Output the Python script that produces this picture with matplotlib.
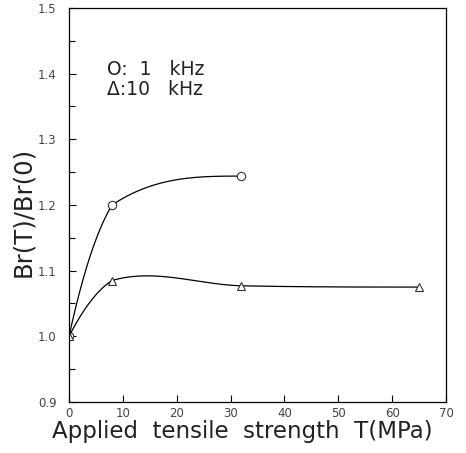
import numpy as np
import matplotlib
matplotlib.use("Agg")
import matplotlib.pyplot as plt

# data
x_1k = [0, 8, 32]
y_1k = [1.00, 1.20, 1.244]
x_10k = [0, 8, 32, 65]
y_10k = [1.00, 1.085, 1.077, 1.075]
xticks = [0, 10, 20, 30, 40, 50, 60, 70]
yticks = [0.9, 1.0, 1.1, 1.2, 1.3, 1.4, 1.5]


def smooth_curve(x, y, n=300):
    """Hand-drawn style cubic Hermite curve through the points."""
    x = np.asarray(x, float); y = np.asarray(y, float)
    k = len(x)
    sec = np.diff(y) / np.diff(x)
    dL = np.zeros(k); dR = np.zeros(k)
    for i in range(1, k - 1):
        dL[i] = 0.5 * (sec[i - 1] + sec[i])
        cr = (y[i + 1] - y[i - 1]) / (x[i + 1] - x[i - 1])
        if np.sign(sec[i - 1]) == np.sign(sec[i]) and abs(cr) > 3 * abs(sec[i]):
            cr = np.sign(cr) * 3 * abs(sec[i])
        dR[i] = cr
    dR[0] = 1.5 * sec[0]
    dL[-1] = 0.0
    xs, ys = [], []
    for i in range(k - 1):
        h = x[i + 1] - x[i]
        t = np.linspace(0, 1, n // (k - 1))
        h00 = 2 * t**3 - 3 * t**2 + 1
        h10 = t**3 - 2 * t**2 + t
        h01 = -2 * t**3 + 3 * t**2
        h11 = t**3 - t**2
        xs.append(x[i] + t * h)
        ys.append(h00 * y[i] + h10 * h * dR[i] + h01 * y[i + 1] + h11 * h * dL[i + 1])
    return np.concatenate(xs), np.concatenate(ys)


fig = plt.figure(figsize=(4.66, 4.53), dpi=100)
ax = fig.add_axes([69 / 466, 51 / 453, (446 - 69) / 466, (402 - 8) / 453])

for xs, ys, m in [(x_1k, y_1k, 'o'), (x_10k, y_10k, '^')]:
    sx, sy = smooth_curve(xs, ys)
    ax.plot(sx, sy, color='black', lw=0.9)
    ax.plot(xs, ys, linestyle='none', marker=m, ms=6, mfc='white', mec='#333333', mew=0.8)

ax.set_xlim(0, 70)
ax.set_ylim(0.9, 1.5)
ax.set_xticks(xticks)
ax.set_yticks(yticks)
ax.set_yticks(np.arange(0.95, 1.5, 0.1), minor=True)
ax.set_xticklabels([str(t) for t in xticks], fontsize=8.5, color='#444444')
ax.set_yticklabels([f"{t:.1f}" for t in yticks], fontsize=8.5, color='#444444')
ax.tick_params(direction='in', length=5, width=0.8)
ax.tick_params(axis='y', pad=9)
ax.tick_params(which='minor', direction='in', length=4, width=0.8)
for s in ax.spines.values():
    s.set_linewidth(0.9)

ax.set_xlabel('Applied  tensile  strength  T(MPa)', fontsize=16.5, color='#222222')
ax.xaxis.set_label_coords((242 - 69) / 377, -0.045, transform=ax.transAxes)
ax.xaxis.label.set_va('top')
ax.set_ylabel('Br(T)/Br(0)', fontsize=17.5, color='#222222')
ax.yaxis.set_label_coords((35 - 69) / 377, (402 - 212) / 394)

ax.text(0.10, 0.83, 'O:  1   kHz', transform=ax.transAxes, fontsize=13.5, color='#222222')
ax.text(0.10, 0.78, '\u0394:10   kHz', transform=ax.transAxes, fontsize=13.5, color='#222222')

fig.savefig('out.png', dpi=100)
